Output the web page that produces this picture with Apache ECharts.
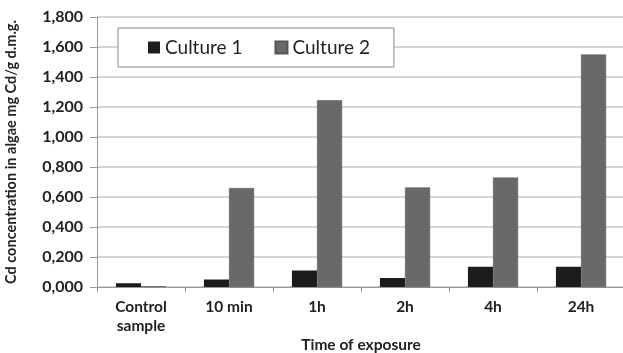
<!DOCTYPE html>
<html>
<head>
<meta charset="utf-8">
<script src="https://cdn.jsdelivr.net/npm/echarts@6/dist/echarts.min.js"></script>
<style>html,body{margin:0;padding:0;background:#fff}#c{width:623px;height:353px}</style>
</head>
<body>
<div id="c"></div>
<script>
const categories = ['Control\nsample', '10 min', '1h', '2h', '4h', '24h'];
const culture1 = [0.025, 0.050, 0.110, 0.060, 0.135, 0.135];
const culture2 = [0.005, 0.660, 1.245, 0.664, 0.730, 1.550];
const seriesNames = ['Culture 1', 'Culture 2'];
const yMin = 0, yMax = 1.8, yStep = 0.2;

const FONT = 'Lato';
const chart = echarts.init(document.getElementById('c'), null, {renderer: 'canvas'});
chart.setOption({
  animation: false,
  textStyle: {fontFamily: FONT},
  grid: {left: 97, right: -2, top: 17, bottom: 66, containLabel: false, outerBoundsMode: 'none'},
  legend: {
    data: seriesNames,
    left: 118, top: 28,
    padding: [10, 24, 10, 30],
    itemWidth: 12, itemHeight: 12, itemGap: 32,
    borderColor: '#8a8a8a', borderWidth: 1, backgroundColor: '#fff',
    icon: 'rect',
    textStyle: {fontFamily: FONT, fontSize: 19, color: '#222'}
  },
  xAxis: {
    type: 'category', data: categories,
    name: 'Time of exposure', nameLocation: 'middle', nameGap: 50, nameMoveOverlap: false,
    nameTextStyle: {fontFamily: FONT, fontSize: 15.5, fontWeight: 'bold', color: '#222'},
    axisLine: {lineStyle: {color: '#999', width: 1}},
    axisTick: {show: true, length: 5, lineStyle: {color: '#999'}},
    axisLabel: {fontFamily: FONT, fontSize: 15.5, fontWeight: 'bold', color: '#222', margin: 10, lineHeight: 19, interval: 0}
  },
  yAxis: {
    type: 'value', min: yMin, max: yMax, interval: yStep,
    name: 'Cd concentration in algae mg Cd/g d.m.g.', nameLocation: 'middle', nameGap: 78, nameMoveOverlap: false,
    nameTextStyle: {fontFamily: FONT, fontSize: 14.5, fontWeight: 'bold', color: '#222'},
    axisLine: {show: true, lineStyle: {color: '#999', width: 1}},
    axisTick: {show: true, length: 7, lineStyle: {color: '#999'}},
    splitLine: {lineStyle: {color: '#c8c8c8', width: 1.5}},
    axisLabel: {fontFamily: FONT, fontSize: 16, fontWeight: 'bold', color: '#222', margin: 14,
      formatter: v => v.toFixed(3).replace('.', ',')}
  },
  series: [
    {name: seriesNames[0], type: 'bar', data: culture1, barGap: '0%', barCategoryGap: '43%',
     itemStyle: {color: '#1c1c1c'}},
    {name: seriesNames[1], type: 'bar', data: culture2, barGap: '0%', barCategoryGap: '43%',
     itemStyle: {color: '#696969', borderColor: '#555', borderWidth: 0.5}}
  ]
});
</script>
</body>
</html>
